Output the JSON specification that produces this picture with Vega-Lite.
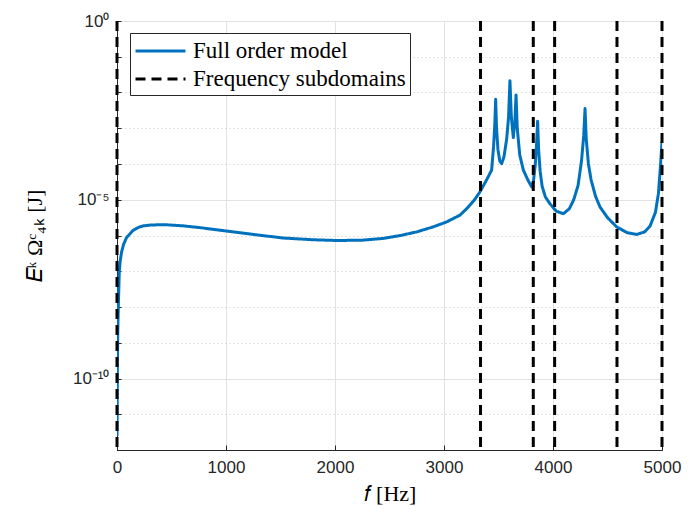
{
  "$schema": "https://vega.github.io/schema/vega-lite/v6.json",
  "width": 545,
  "height": 429,
  "autosize": {"type": "none"},
  "padding": {"left": 117, "top": 21, "right": 28, "bottom": 69},
  "background": "white",
  "config": {
    "view": {"stroke": "#262626", "strokeWidth": 1},
    "axis": {
      "domainColor": "#262626",
      "tickColor": "#262626",
      "labelColor": "#262626",
      "labelFont": "Liberation Sans",
      "labelFontSize": 17,
      "labelFlush": false,
      "titleFont": "Liberation Serif",
      "titleFontSize": 22,
      "titleFontWeight": "normal",
      "titleColor": "#000000",
      "gridColor": "#e2e2e2",
      "gridOpacity": 1
    },
    "legend": {
      "title": null,
      "orient": "none",
      "legendX": 13,
      "legendY": 12,
      "fillColor": "white",
      "strokeColor": "#262626",
      "padding": 4,
      "labelFont": "Liberation Serif",
      "labelFontSize": 23,
      "labelColor": "#000000",
      "labelLimit": 400,
      "symbolType": "M-1,0L3,0",
      "symbolSize": 625,
      "symbolStrokeWidth": 3,
      "rowPadding": 2,
      "labelOffset": 31
    }
  },
  "layer": [
    {
      "data": {
        "values": [
          {"f": 0.5, "E": 2.51e-12, "series": "Full order model"},
          {"f": 2, "E": 3.16e-11, "series": "Full order model"},
          {"f": 4, "E": 3.16e-10, "series": "Full order model"},
          {"f": 7, "E": 2.0e-9, "series": "Full order model"},
          {"f": 12, "E": 1.0e-8, "series": "Full order model"},
          {"f": 21, "E": 1.0e-7, "series": "Full order model"},
          {"f": 30, "E": 2.0e-7, "series": "Full order model"},
          {"f": 43, "E": 3.55e-7, "series": "Full order model"},
          {"f": 60, "E": 5.62e-7, "series": "Full order model"},
          {"f": 89, "E": 8.91e-7, "series": "Full order model"},
          {"f": 120, "E": 1.12e-6, "series": "Full order model"},
          {"f": 150, "E": 1.41e-6, "series": "Full order model"},
          {"f": 200, "E": 1.70e-6, "series": "Full order model"},
          {"f": 241, "E": 1.86e-6, "series": "Full order model"},
          {"f": 300, "E": 1.95e-6, "series": "Full order model"},
          {"f": 379, "E": 2.0e-6, "series": "Full order model"},
          {"f": 450, "E": 2.0e-6, "series": "Full order model"},
          {"f": 608, "E": 1.86e-6, "series": "Full order model"},
          {"f": 761, "E": 1.66e-6, "series": "Full order model"},
          {"f": 945, "E": 1.41e-6, "series": "Full order model"},
          {"f": 1250, "E": 1.07e-6, "series": "Full order model"},
          {"f": 1526, "E": 8.5e-7, "series": "Full order model"},
          {"f": 1800, "E": 7.6e-7, "series": "Full order model"},
          {"f": 2015, "E": 7.24e-7, "series": "Full order model"},
          {"f": 2250, "E": 7.41e-7, "series": "Full order model"},
          {"f": 2443, "E": 8.3e-7, "series": "Full order model"},
          {"f": 2600, "E": 1.0e-6, "series": "Full order model"},
          {"f": 2749, "E": 1.26e-6, "series": "Full order model"},
          {"f": 2900, "E": 1.74e-6, "series": "Full order model"},
          {"f": 3024, "E": 2.4e-6, "series": "Full order model"},
          {"f": 3147, "E": 3.72e-6, "series": "Full order model"},
          {"f": 3208, "E": 5.62e-6, "series": "Full order model"},
          {"f": 3280, "E": 1.0e-5, "series": "Full order model"},
          {"f": 3330, "E": 1.66e-5, "series": "Full order model"},
          {"f": 3390, "E": 3.55e-5, "series": "Full order model"},
          {"f": 3437, "E": 6.76e-5, "series": "Full order model"},
          {"f": 3455, "E": 3.16e-4, "series": "Full order model"},
          {"f": 3466, "E": 1.26e-3, "series": "Full order model"},
          {"f": 3474, "E": 6.46e-3, "series": "Full order model"},
          {"f": 3482, "E": 1.0e-3, "series": "Full order model"},
          {"f": 3495, "E": 2.51e-4, "series": "Full order model"},
          {"f": 3512, "E": 1.2e-4, "series": "Full order model"},
          {"f": 3529, "E": 1.02e-4, "series": "Full order model"},
          {"f": 3550, "E": 1.58e-4, "series": "Full order model"},
          {"f": 3575, "E": 5.0e-4, "series": "Full order model"},
          {"f": 3592, "E": 2.0e-3, "series": "Full order model"},
          {"f": 3605, "E": 2.14e-2, "series": "Full order model"},
          {"f": 3618, "E": 2.0e-3, "series": "Full order model"},
          {"f": 3636, "E": 5.5e-4, "series": "Full order model"},
          {"f": 3650, "E": 1.58e-3, "series": "Full order model"},
          {"f": 3661, "E": 8.5e-3, "series": "Full order model"},
          {"f": 3672, "E": 1.0e-3, "series": "Full order model"},
          {"f": 3695, "E": 1.78e-4, "series": "Full order model"},
          {"f": 3728, "E": 6.76e-5, "series": "Full order model"},
          {"f": 3770, "E": 3.55e-5, "series": "Full order model"},
          {"f": 3804, "E": 2.29e-5, "series": "Full order model"},
          {"f": 3820, "E": 3.16e-5, "series": "Full order model"},
          {"f": 3838, "E": 1.0e-4, "series": "Full order model"},
          {"f": 3850, "E": 3.98e-4, "series": "Full order model"},
          {"f": 3859, "E": 1.58e-3, "series": "Full order model"},
          {"f": 3868, "E": 2.51e-4, "series": "Full order model"},
          {"f": 3882, "E": 6.3e-5, "series": "Full order model"},
          {"f": 3900, "E": 2.4e-5, "series": "Full order model"},
          {"f": 3930, "E": 1.2e-5, "series": "Full order model"},
          {"f": 3972, "E": 7.76e-6, "series": "Full order model"},
          {"f": 4030, "E": 4.79e-6, "series": "Full order model"},
          {"f": 4095, "E": 4.07e-6, "series": "Full order model"},
          {"f": 4150, "E": 5.62e-6, "series": "Full order model"},
          {"f": 4190, "E": 1.0e-5, "series": "Full order model"},
          {"f": 4230, "E": 2.51e-5, "series": "Full order model"},
          {"f": 4262, "E": 1.26e-4, "series": "Full order model"},
          {"f": 4282, "E": 6.3e-4, "series": "Full order model"},
          {"f": 4294, "E": 3.55e-3, "series": "Full order model"},
          {"f": 4305, "E": 5.0e-4, "series": "Full order model"},
          {"f": 4325, "E": 1.0e-4, "series": "Full order model"},
          {"f": 4350, "E": 3.55e-5, "series": "Full order model"},
          {"f": 4390, "E": 1.26e-5, "series": "Full order model"},
          {"f": 4431, "E": 6.3e-6, "series": "Full order model"},
          {"f": 4500, "E": 3.16e-6, "series": "Full order model"},
          {"f": 4584, "E": 1.74e-6, "series": "Full order model"},
          {"f": 4680, "E": 1.2e-6, "series": "Full order model"},
          {"f": 4768, "E": 1.07e-6, "series": "Full order model"},
          {"f": 4840, "E": 1.26e-6, "series": "Full order model"},
          {"f": 4890, "E": 1.82e-6, "series": "Full order model"},
          {"f": 4940, "E": 4.47e-6, "series": "Full order model"},
          {"f": 4967, "E": 1.48e-5, "series": "Full order model"},
          {"f": 4985, "E": 7.94e-5, "series": "Full order model"},
          {"f": 5000, "E": 4.17e-4, "series": "Full order model"}
        ]
      },
      "mark": {"type": "line", "strokeWidth": 3, "clip": true, "strokeJoin": "round"},
      "encoding": {
        "x": {
          "field": "f",
          "type": "quantitative",
          "scale": {"domain": [0, 5000], "nice": false, "zero": false},
          "axis": {
            "values": [0, 1000, 2000, 3000, 4000, 5000],
            "format": "d",
            "title": "𝑓  [Hz]",
            "tickSize": -5,
            "labelPadding": 14,
            "titlePadding": 8,
            "grid": true
          }
        },
        "y": {
          "field": "E",
          "type": "quantitative",
          "scale": {"type": "log", "domain": [1e-12, 1], "nice": false},
          "axis": {
            "values": [1e-12, 1e-11, 1e-10, 1e-9, 1e-8, 1e-7, 1e-6, 1e-5, 1e-4, 1e-3, 1e-2, 1e-1, 1],
            "title": "𝐸ᵏ Ωᶜ₄ₖ  [J]",
            "titlePadding": 26,
            "tickSize": -4,
            "labelPadding": 12,
            "grid": true,
            "labelExpr": "round(log(datum.value)/LN10) == 0 ? '10⁰' : round(log(datum.value)/LN10) == -5 ? '10⁻⁵' : round(log(datum.value)/LN10) == -10 ? '10⁻¹⁰' : ''",
            "gridDash": {"condition": {"test": "round(log(datum.value)/LN10) % 5 == 0", "value": []}, "value": [1, 3]},
            "gridColor": {"condition": {"test": "round(log(datum.value)/LN10) % 5 == 0", "value": "#e2e2e2"}, "value": "#c8c8c8"}
          }
        },
        "color": {
          "field": "series",
          "type": "nominal",
          "scale": {"domain": ["Full order model", "Frequency subdomains"], "range": ["#0072BD", "#000000"]}
        },
        "strokeDash": {
          "field": "series",
          "type": "nominal",
          "scale": {"domain": ["Full order model", "Frequency subdomains"], "range": [[1, 0], [10, 6]]}
        }
      }
    },
    {
      "data": {
        "values": [
          {"f": 0, "series": "Frequency subdomains"},
          {"f": 3335, "series": "Frequency subdomains"},
          {"f": 3819, "series": "Frequency subdomains"},
          {"f": 4015, "series": "Frequency subdomains"},
          {"f": 4587, "series": "Frequency subdomains"},
          {"f": 5000, "series": "Frequency subdomains"}
        ]
      },
      "mark": {"type": "rule", "strokeWidth": 3},
      "encoding": {
        "x": {"field": "f", "type": "quantitative"},
        "color": {"field": "series", "type": "nominal"},
        "strokeDash": {"field": "series", "type": "nominal"}
      }
    }
  ]
}
